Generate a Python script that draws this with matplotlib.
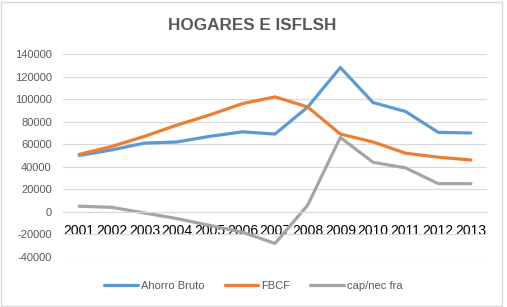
import matplotlib
matplotlib.use("Agg")
import matplotlib.pyplot as plt
from matplotlib.patches import Rectangle

years = [2001, 2002, 2003, 2004, 2005, 2006, 2007, 2008, 2009, 2010, 2011, 2012, 2013]
ahorro_bruto = [50000, 55000, 61000, 62000, 67000, 71000, 69000, 93000, 128000, 97000, 89000, 70500, 70000]
fbcf = [51000, 58000, 67000, 77000, 86000, 96000, 102000, 93000, 69000, 62000, 52000, 48500, 46000]
cap_nec = [5000, 4000, -1000, -6000, -12000, -18000, -28000, 6000, 66000, 44000, 39000, 25000, 25000]
yticks = [-40000, -20000, 0, 20000, 40000, 60000, 80000, 100000, 120000, 140000]

plt.rcParams['font.family'] = ['Liberation Sans', 'DejaVu Sans']
txt = '#595959'
grid = '#d9d9d9'

fig = plt.figure(figsize=(5.07, 3.07), dpi=100)
fig.patches.append(Rectangle((0.002, 0.004), 0.988, 0.99, transform=fig.transFigure,
                             fill=False, edgecolor=grid, linewidth=1))
ax = fig.add_axes([0.124, 0.163, 0.837, 0.661])

ax.plot(years, ahorro_bruto, color='#5B9BD5', lw=2.3, label='Ahorro Bruto', solid_capstyle='round')
ax.plot(years, fbcf, color='#ED7D31', lw=2.3, label='FBCF', solid_capstyle='round')
ax.plot(years, cap_nec, color='#A5A5A5', lw=2.3, label='cap/nec fra', solid_capstyle='round')

ax.set_xlim(2000.5, 2013.5)
ax.set_ylim(-40000, 140000)
ax.set_yticks(yticks)
ax.set_yticklabels([str(v) for v in yticks], color=txt, fontsize=8)
ax.set_xticks(years)
ax.set_xticklabels([str(y) for y in years], color=txt, fontsize=7.5)
ax.yaxis.grid(True, color=grid, lw=0.8)
ax.set_axisbelow(True)
for s in ['top', 'right', 'left']:
    ax.spines[s].set_visible(False)
ax.spines['bottom'].set_position(('data', 0))
ax.spines['bottom'].set_color(grid)
ax.tick_params(axis='both', length=0)
ax.tick_params(axis='x', pad=9)
ax.tick_params(axis='y', pad=8)

fig.text(0.498, 0.917, 'HOGARES E ISFLSH', color=txt, fontsize=12.3, fontweight='bold',
         ha='center', va='center')

fig.legend(loc='center', bbox_to_anchor=(0.50, 0.069), ncol=3, frameon=False,
           fontsize=8, labelcolor=txt, handlelength=3.0, columnspacing=1.8, handletextpad=0.3)

fig.savefig('out.png', dpi=100)
